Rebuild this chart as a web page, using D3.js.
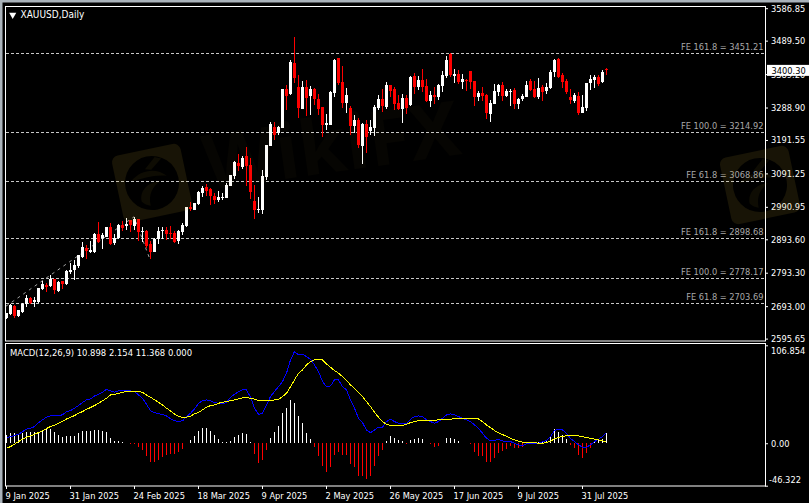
<!DOCTYPE html>
<html>
<head>
<meta charset="utf-8">
<style>
  html, body { margin: 0; padding: 0; background: #000; overflow: hidden; }
  text { font-family: "DejaVu Sans Condensed", "DejaVu Sans", sans-serif; font-size: 9.2px; }
</style>
<script src="https://cdn.jsdelivr.net/npm/d3@7"></script>
</head>
<body>
<div id="viz"></div>
<script>
const opens = [
  2658,2669,2694,2664,2676,2698,2717,2704,2704,2744,
  2756,2753,2774,2738,2767,2758,2794,2801,2813,2841,
  2866,2855,2855,2909,2897,2901,2930,2881,2896,2936,
  2934,2951,2934,2954,2914,2919,2879,2856,2894,2917,
  2921,2912,2911,2888,2916,2934,2991,2981,2999,3032,
  3049,3044,3024,3011,3017,3017,3053,3084,3123,3109,
  3143,3116,3008,2981,2981,3081,3173,3231,3211,3228,
  3344,3329,3422,3351,3284,3351,3323,3344,3314,3289,
  3236,3236,3333,3437,3365,3302,3287,3233,3251,3173,
  3239,3218,3227,3287,3313,3289,3356,3344,3302,3284,
  3317,3296,3383,3351,3371,3353,3308,3326,3320,3353,
  3383,3449,3383,3389,3365,3371,3398,3368,3320,3332,
  3326,3270,3299,3335,3356,3323,3336,3341,3298,3313,
  3321,3367,3344,3319,3351,3339,3346,3396,3434,3386,
  3368,3319,3309,3324,3272,3286,3361,3371,3381,3364,3404];
const highs = [
  2673,2699,2696,2681,2701,2725,2721,2719,2747,2767,
  2761,2787,2774,2768,2769,2801,2821,2831,2847,2884,
  2876,2888,2913,2945,2911,2931,2941,2908,2938,2948,
  2958,2951,2961,2954,2929,2921,2888,2896,2931,2930,
  2929,2933,2918,2921,2941,2990,3004,3002,3038,3054,
  3059,3047,3033,3038,3031,3061,3086,3128,3149,3144,
  3169,3138,3056,3019,3101,3176,3245,3245,3233,3344,
  3356,3431,3499,3386,3368,3371,3353,3346,3329,3289,
  3269,3338,3434,3437,3413,3346,3293,3266,3256,3241,
  3251,3251,3296,3326,3344,3366,3356,3349,3326,3329,
  3326,3383,3392,3383,3404,3374,3338,3350,3359,3398,
  3443,3451,3404,3401,3389,3374,3398,3368,3338,3350,
  3329,3311,3359,3359,3365,3344,3343,3348,3318,3329,
  3368,3374,3368,3376,3356,3361,3401,3434,3438,3393,
  3373,3344,3333,3336,3326,3361,3386,3386,3386,3401,3408];
const lows = [
  2654,2665,2658,2661,2671,2691,2698,2691,2703,2741,
  2736,2751,2729,2735,2744,2756,2789,2771,2806,2838,
  2834,2851,2853,2883,2865,2899,2876,2876,2894,2918,
  2921,2916,2921,2889,2886,2866,2833,2854,2879,2894,
  2891,2894,2881,2879,2906,2931,2978,2981,2997,3021,
  3024,2996,2999,3006,3011,3016,3053,3073,3099,3104,
  3053,3014,2954,2973,2969,3071,3173,3191,3206,3228,
  3281,3326,3361,3258,3284,3263,3266,3296,3266,3201,
  3221,3236,3321,3356,3287,3273,3206,3213,3166,3119,
  3153,3206,3203,3281,3276,3284,3321,3281,3281,3243,
  3269,3293,3329,3341,3335,3304,3290,3299,3311,3335,
  3378,3381,3362,3359,3344,3338,3344,3293,3308,3308,
  3254,3245,3299,3323,3308,3320,3293,3283,3283,3309,
  3319,3338,3316,3314,3308,3329,3343,3381,3376,3348,
  3329,3299,3303,3266,3271,3278,3341,3346,3354,3361,3385];
const closes = [
  2673,2696,2663,2681,2699,2717,2701,2711,2747,2759,
  2751,2775,2741,2766,2758,2798,2802,2817,2845,2869,
  2859,2861,2909,2886,2906,2930,2879,2898,2936,2926,
  2939,2936,2955,2914,2918,2873,2856,2895,2918,2921,
  2909,2909,2886,2918,2936,2990,2984,3002,3035,3047,
  3039,3023,3011,3021,3021,3056,3086,3126,3113,3138,
  3113,3036,2981,2984,3083,3176,3239,3206,3231,3344,
  3323,3426,3376,3286,3351,3316,3344,3314,3284,3236,
  3242,3335,3431,3361,3302,3326,3233,3251,3176,3239,
  3201,3230,3289,3313,3293,3356,3338,3299,3284,3317,
  3287,3380,3349,3371,3351,3308,3326,3320,3356,3386,
  3431,3386,3389,3365,3374,3368,3365,3320,3332,3323,
  3272,3302,3338,3356,3323,3339,3339,3298,3315,3324,
  3356,3341,3319,3346,3335,3349,3396,3431,3379,3366,
  3335,3311,3326,3271,3289,3361,3373,3379,3359,3396,3400.3];

const histogram = [
  9.1,10.9,10.9,10.2,10.9,12.0,12.0,12.0,12.7,13.8,
  15.3,15.3,12.7,9.1,7.3,8.0,8.0,8.0,10.9,13.1,
  13.1,13.1,14.5,14.5,13.1,12.7,6.2,2.9,2.5,1.8,
  0.7,-0.4,-0.4,-4.4,-7.3,-13.8,-20.0,-20.0,-18.2,-14.5,
  -12.7,-11.6,-11.6,-9.1,-6.2,0.7,3.6,8.4,13.8,16.7,
  16.7,13.8,9.1,4.7,1.8,1.1,2.5,7.3,9.5,11.3,
  10.5,1.8,-11.6,-21.8,-18.2,-7.3,6.2,12.4,18.9,33.5,
  38.9,47.3,44.4,29.8,22.5,11.3,4.7,-4.4,-13.8,-24.7,
  -31.3,-25.5,-12.7,-9.5,-12.7,-12.7,-22.5,-26.2,-35.6,-35.6,
  -38.9,-35.6,-24.7,-13.8,-7.3,2.5,8.0,5.5,3.6,2.5,
  -1.1,3.6,4.7,5.8,4.7,0.7,-0.7,-4.0,-2.9,0.2,
  5.8,5.8,4.7,2.5,0.7,0.2,-0.7,-9.1,-13.8,-13.8,
  -20.0,-20.4,-16.0,-10.2,-8.4,-6.2,-2.9,-5.1,-5.5,-3.6,
  -1.1,0.7,0.7,1.5,1.8,2.5,7.3,15.3,12.7,9.1,
  4.4,-2.2,-4.7,-12.7,-15.6,-10.2,-4.7,1.8,3.6,5.1,10.898];
const macdMain = [
  5.5,7.3,8.4,9.8,12.7,15.3,16.4,18.2,22.5,25.5,
  28.4,29.8,29.8,30.5,30.9,34.5,35.6,38.2,41.1,44.4,
  47.3,48.4,51.6,53.4,55.6,58.9,57.1,55.6,57.1,57.8,
  57.8,57.1,56.4,52.7,49.1,42.5,35.6,33.5,32.0,31.6,
  29.8,26.9,24.4,24.0,24.4,29.1,32.7,37.5,43.6,46.5,
  47.3,46.2,44.4,43.6,42.9,44.7,50.2,53.4,56.4,58.2,
  58.2,50.2,38.2,31.6,32.7,41.8,50.9,56.4,61.8,67.3,
  76.4,90.9,100.0,96.4,97.1,94.5,91.6,85.4,78.2,67.3,
  61.8,62.5,69.1,69.1,61.8,58.2,47.3,38.2,27.3,22.5,
  14.5,11.6,14.5,17.5,17.5,23.6,26.2,23.6,21.8,21.8,
  21.8,26.2,29.1,29.8,29.1,25.5,23.6,21.8,23.6,27.3,
  30.9,32.0,30.9,29.1,27.3,25.5,23.6,20.0,16.4,10.9,
  5.5,2.5,2.9,4.4,2.5,2.2,1.8,0,-1.8,-2.9,
  -0.7,0,0,0,1.5,2.9,7.3,13.8,15.3,14.5,
  10.9,5.1,1.8,-1.8,-4.4,-4.4,-1.8,1.8,4.4,7.3,11.368];
const macdSignal = [
  -5.5,-3.6,-1.1,1.8,4.4,6.5,8.0,9.8,11.6,13.8,
  16.0,18.2,19.6,21.8,24.0,26.5,28.4,30.2,32.7,34.5,
  37.1,38.9,41.1,43.6,46.2,49.1,52.7,53.4,54.5,55.6,
  56.4,56.7,56.7,56.4,55.6,52.7,50.2,47.3,44.7,41.8,
  38.2,35.3,32.0,29.1,28.4,28.4,29.5,32.0,33.5,36.4,
  39.3,41.1,41.8,43.6,44.7,45.5,46.5,47.3,48.4,49.5,
  49.8,49.1,48.0,46.5,46.2,46.2,46.5,47.3,48.0,50.9,
  54.5,61.8,69.1,76.4,80.0,85.4,89.1,90.9,91.6,90.9,
  86.5,82.9,79.3,76.4,72.7,68.4,63.6,60.0,55.3,50.9,
  45.5,40.0,33.8,28.4,23.6,20.7,19.3,18.9,18.9,19.6,
  20.7,22.5,23.6,24.7,25.1,25.1,25.1,25.1,25.5,25.5,
  26.2,26.2,26.9,27.3,27.3,27.3,27.3,26.9,26.5,23.6,
  20.0,17.1,13.8,11.6,9.5,7.6,5.5,3.6,2.2,1.1,
  1.1,0.7,0.7,0,0,0.7,2.2,4.7,6.5,7.3,
  8.4,8.7,8.7,8.0,7.3,6.2,5.5,4.4,3.6,2.5,2.154];

const priceTicks = [3586.85,3489.50,3389.20,3288.90,3191.55,3091.25,2990.95,2893.60,2793.30,2693.00,2595.65];
const macdTicks = [106.854,0,-46.322];
const macdTickLabels = ['106.854','0.00','-46.322'];
const dateTicks = [0,16,32,48,64,80,96,112,128,144];
const dateLabels = ['9 Jan 2025','31 Jan 2025','24 Feb 2025','18 Mar 2025','9 Apr 2025','2 May 2025','26 May 2025','17 Jun 2025','9 Jul 2025','31 Jul 2025'];
const feNames = ['FE 161.8','FE 100.0','FE 61.8','FE 161.8','FE 100.0','FE 61.8'];
const feLevels = [3451.21,3214.92,3068.86,2898.68,2778.17,2703.69];
const feLegBars = [0,32,36];
const feLegPrices = [2693,2961,2833];

(() => {
  let width = 809,
    height = 503;

  let svg = d3.select('#viz')
    .append('svg')
    .attr('width', width)
    .attr('height', height)
    .style('display', 'block')
    .style('background', '#000');

  // bar index to pixel, MT4 daily spacing
  let x = d3.scaleLinear().domain([0, 150]).range([6, 606]);
  let y = d3.scaleLinear().domain([2595.65, 3586.85]).range([338.6, 8.2]);
  let yMacd = d3.scaleLinear().domain([-46.322, 106.854]).range([485.7, 345.3]);

  // window chrome
  svg.append('rect').attr('width', width).attr('height', 2.5).attr('fill', '#a9b2ba');
  svg.append('rect').attr('width', 2.5).attr('height', height).attr('fill', '#a9b2ba');

  // fibo levels
  let fe = svg.append('g').selectAll('g')
    .data(feLevels)
    .join('g');

  fe.append('line')
    .attr('x1', 6)
    .attr('x2', 765)
    .attr('y1', d => Math.round(y(d)) + 0.5)
    .attr('y2', d => Math.round(y(d)) + 0.5)
    .attr('stroke', '#c8c8c8')
    .attr('stroke-dasharray', '3,2');

  fe.append('text')
    .attr('x', 763.5)
    .attr('y', d => y(d) - 3)
    .attr('text-anchor', 'end')
    .attr('fill', '#a8a8a8')
    .text((d, i) => `${feNames[i]} = ${d.toFixed(2)}`);

  // expansion legs
  svg.append('path')
    .attr('d', d3.line().x(d => x(d)).y((d, i) => y(feLegPrices[i]))(feLegBars))
    .attr('fill', 'none')
    .attr('stroke', '#a0a0a0')
    .attr('stroke-dasharray', '3,4');

  // candles
  let candle = svg.append('g').selectAll('g')
    .data(closes)
    .join('g')
    .attr('fill', (d, i) => d >= opens[i] ? '#fff' : '#ff0000')
    .attr('stroke', (d, i) => d >= opens[i] ? '#fff' : '#ff0000')
    .attr('shape-rendering', 'crispEdges');

  candle.append('line')
    .attr('x1', (d, i) => x(i) + 0.5)
    .attr('x2', (d, i) => x(i) + 0.5)
    .attr('y1', (d, i) => y(highs[i]))
    .attr('y2', (d, i) => y(lows[i]));

  candle.append('rect')
    .attr('x', (d, i) => x(i) - 1)
    .attr('width', 3)
    .attr('y', (d, i) => y(Math.max(d, opens[i])))
    .attr('height', (d, i) => Math.max(1, Math.abs(y(d) - y(opens[i]))))
    .attr('stroke', 'none');

  // macd histogram
  svg.append('g').selectAll('line')
    .data(histogram)
    .join('line')
    .attr('x1', (d, i) => x(i) + 0.5)
    .attr('x2', (d, i) => x(i) + 0.5)
    .attr('y1', yMacd(0))
    .attr('y2', d => yMacd(d))
    .attr('stroke', d => d >= 0 ? '#fff' : '#ff0000')
    .attr('shape-rendering', 'crispEdges');

  let macdLine = d3.line().x((d, i) => x(i) + 0.5).y(d => yMacd(d));

  svg.append('path')
    .attr('d', macdLine(macdMain))
    .attr('fill', 'none')
    .attr('stroke', '#0000ff')
    .attr('shape-rendering', 'crispEdges');

  svg.append('path')
    .attr('d', macdLine(macdSignal))
    .attr('fill', 'none')
    .attr('stroke', '#ffff00')
    .attr('shape-rendering', 'crispEdges');

  // frames
  svg.append('rect')
    .attr('x', 5.5).attr('y', 6.5)
    .attr('width', 760).attr('height', 334.5)
    .attr('fill', 'none').attr('stroke', '#fff');

  svg.append('rect')
    .attr('x', 5.5).attr('y', 343.5)
    .attr('width', 760).attr('height', 142.5)
    .attr('fill', 'none').attr('stroke', '#fff');

  // axes
  let styleAxis = g => {
    g.select('.domain').remove();
    g.selectAll('line').attr('stroke', '#fff');
    g.selectAll('text')
      .attr('fill', '#fff')
      .attr('font-family', null)
      .attr('font-size', null);
  };

  svg.append('g')
    .attr('transform', 'translate(765,0)')
    .call(d3.axisRight(y).tickValues(priceTicks).tickSize(3).tickPadding(3).tickFormat(d3.format('.2f')))
    .call(styleAxis);

  let macdAxis = svg.append('g')
    .attr('transform', 'translate(765,0)')
    .call(d3.axisRight(yMacd).tickValues(macdTicks).tickSize(3).tickPadding(3).tickFormat((d, i) => macdTickLabels[i]))
    .call(styleAxis);

  // first and last labels sit inside the pane
  macdAxis.selectAll('text')
    .attr('dy', (d, i) => ['0.9em', '0.32em', '-0.4em'][i])
    .attr('x', (d, i) => i == 2 ? 4 : 6);

  svg.append('g')
    .attr('transform', 'translate(0,486)')
    .call(d3.axisBottom(x).tickValues(dateTicks).tickSize(3).tickFormat((d, i) => dateLabels[i]))
    .call(styleAxis)
    .selectAll('text')
    .attr('text-anchor', 'start')
    .attr('x', -1)
    .attr('y', 6);

  // current price box
  svg.append('rect')
    .attr('x', 767).attr('y', y(closes[150]) - 5.5)
    .attr('width', 42).attr('height', 11)
    .attr('fill', '#fff');

  svg.append('text')
    .attr('x', 771.5)
    .attr('y', y(closes[150]) + 3.5)
    .attr('fill', '#000')
    .text(closes[150].toFixed(2));

  // titles
  svg.append('path')
    .attr('d', d3.symbol().type(d3.symbolTriangle).size(22))
    .attr('transform', 'translate(12.7,14.8) rotate(180)')
    .attr('fill', '#fff');

  svg.append('text')
    .attr('x', 20.5).attr('y', 18)
    .attr('fill', '#fff')
    .style('font-size', '10px')
    .text('XAUUSD,Daily');

  svg.append('text')
    .attr('x', 10).attr('y', 355.5)
    .attr('fill', '#fff')
    .style('font-size', '9.4px')
    .text(`MACD(12,26,9) ${histogram[150]} ${macdSignal[150]} ${macdMain[150]} 0.000`);

  // wikifx watermark over everything, very faint
  let logoCentres = [[152, 183], [760, 185]];
  let logo = svg.append('g').selectAll('g')
    .data(logoCentres)
    .join('g')
    .attr('transform', d => `translate(${d[0]},${d[1]}) rotate(-12)`)
    .attr('fill', '#c8a830')
    .attr('fill-opacity', 0.12)
    .style('pointer-events', 'none');

  logo.append('path')
    .attr('fill-rule', 'evenodd')
    .attr('d', 'M-28,-34H28A7,7 0 0 1 35,-27V27A7,7 0 0 1 28,34H-28A7,7 0 0 1 -35,27V-27A7,7 0 0 1 -28,-34Z' +
      'M27,0A27,27 0 1 0 -27,0A27,27 0 1 0 27,0Z');

  logo.append('path')
    .attr('fill-opacity', 0.07)
    .attr('d', 'M-20,-6C-8,-16 8,-14 16,-4C4,-8 -8,-6 -20,-6ZM-14,16C-14,4 -2,-2 8,0C0,4 -6,10 -6,22C-9,21 -12,19 -14,16ZM8,-25L14,-22L2,-13L-4,-15Z');

  svg.append('text')
    .text('WikiFX')
    .attr('transform', 'translate(207,190) rotate(-8)')
    .attr('fill', '#c8a830')
    .attr('fill-opacity', 0.03)
    .style('font-family', '"Noto Sans"')
    .style('font-weight', 700)
    .style('font-size', '76px');
})();
</script>
</body>
</html>
